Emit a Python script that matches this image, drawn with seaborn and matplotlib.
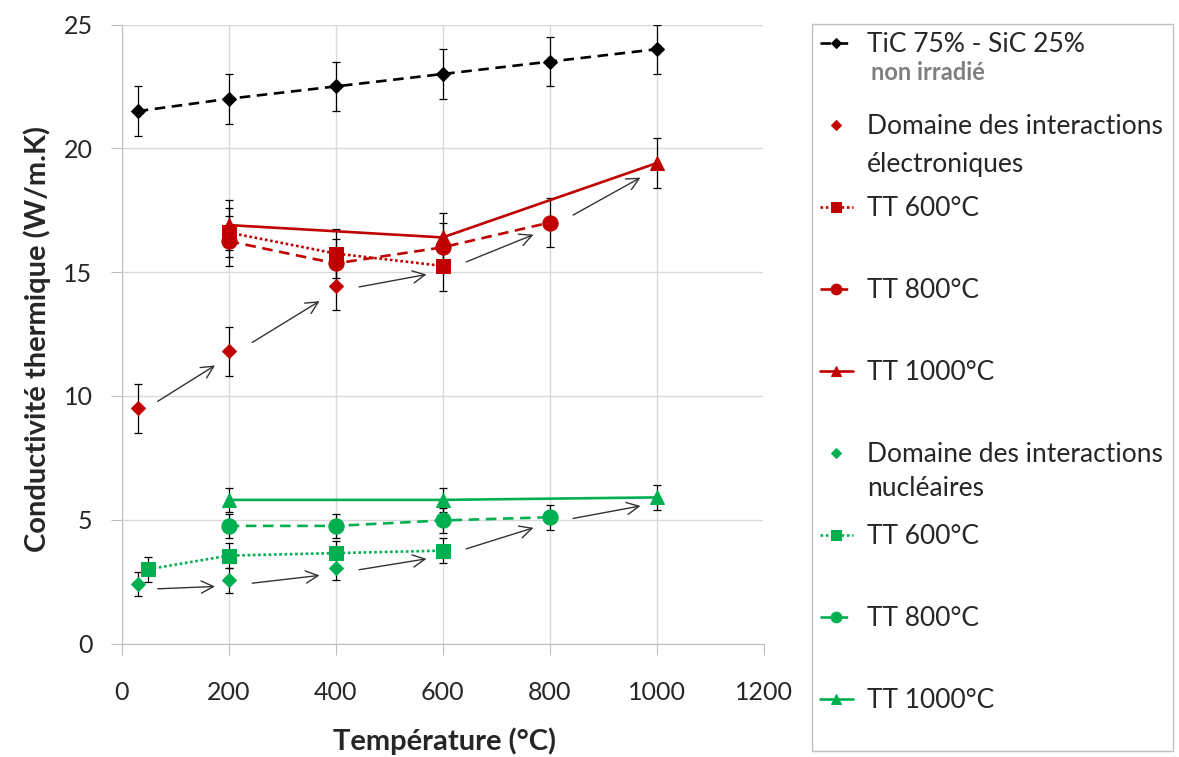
import numpy as np
import matplotlib.pyplot as plt
import seaborn as sns
from matplotlib.patches import Rectangle
from matplotlib.transforms import ScaledTranslation

# --- valeurs ---
T_REF = [30, 200, 400, 600, 800, 1000]
K_REF = [21.5, 22.0, 22.5, 23.0, 23.5, 24.0]
ERR_REF = 1.0

T_ELEC = [30, 200, 400]
K_ELEC = [9.5, 11.8, 14.45]
T_E600 = [200, 400, 600]
K_E600 = [16.6, 15.75, 15.25]
T_E800 = [200, 400, 600, 800]
K_E800 = [16.25, 15.35, 16.0, 17.0]
T_E1000 = [200, 600, 1000]
K_E1000 = [16.9, 16.4, 19.4]
ERR_ELEC = 1.0

T_NUC = [30, 200, 400]
K_NUC = [2.4, 2.55, 3.05]
T_N600 = [50, 200, 400, 600]
K_N600 = [3.0, 3.55, 3.65, 3.75]
T_N800 = [200, 400, 600, 800]
K_N800 = [4.75, 4.75, 4.97, 5.1]
T_N1000 = [200, 600, 1000]
K_N1000 = [5.8, 5.8, 5.9]
ERR_NUC = 0.5

RED = "#C00000"
GREEN = "#00B050"
TXT = "#262626"

sns.set_style("white")
plt.rcParams["font.family"] = ["Lato", "DejaVu Sans"]

fig = plt.figure(figsize=(11.79, 7.57), dpi=100)
ax = fig.add_axes([121.7 / 1179, 1 - 643.5 / 757, 641.8 / 1179, 619 / 757])


def serie(x, y, err, color, marker, ms, ls, label):
    ax.errorbar(x, y, yerr=err, fmt="none", ecolor="black", elinewidth=0.9,
                capsize=3, capthick=0.9, zorder=2)
    sns.lineplot(x=x, y=y, ax=ax, color=color, marker=marker, markersize=ms,
                 markeredgecolor=color, linestyle=ls, linewidth=1.9,
                 label=label, errorbar=None, zorder=3)


dash = (0, (4, 2.5))
dot = (0, (1, 1))
serie(T_REF, K_REF, ERR_REF, "black", "D", 7.5, dash, "TiC 75% - SiC 25%")
serie(T_ELEC, K_ELEC, ERR_ELEC, RED, "D", 7, "none", "Domaine des interactions")
serie(T_E600, K_E600, ERR_ELEC, RED, "s", 10, dot, "TT 600°C")
serie(T_E800, K_E800, ERR_ELEC, RED, "o", 11, dash, "TT 800°C")
serie(T_E1000, K_E1000, ERR_ELEC, RED, "^", 10, "-", "TT 1000°C")
serie(T_NUC, K_NUC, ERR_NUC, GREEN, "D", 7, "none", "Domaine des interactions")
serie(T_N600, K_N600, ERR_NUC, GREEN, "s", 10, dot, "TT 600°C")
serie(T_N800, K_N800, ERR_NUC, GREEN, "o", 11, dash, "TT 800°C")
serie(T_N1000, K_N1000, ERR_NUC, GREEN, "^", 10, "-", "TT 1000°C")

handles, labels = ax.get_legend_handles_labels()
ax.get_legend().remove()

# fleches d'evolution (chaine des points successifs)
chain_e = list(zip(T_ELEC, K_ELEC)) + [(T_E600[-1], K_E600[-1]),
                                        (T_E800[-1], K_E800[-1]),
                                        (T_E1000[-1], K_E1000[-1])]
chain_n = list(zip(T_NUC, K_NUC)) + [(T_N600[-1], K_N600[-1]),
                                      (T_N800[-1], K_N800[-1]),
                                      (T_N1000[-1], K_N1000[-1])]
shift = ax.transData + ScaledTranslation(0, -4 / 72, fig.dpi_scale_trans)
for chain in (chain_e, chain_n):
    for (x0, y0), (x1, y1) in zip(chain[:-1], chain[1:]):
        a = (x0 + 0.22 * (x1 - x0), y0 + 0.22 * (y1 - y0))
        b = (x0 + 0.85 * (x1 - x0), y0 + 0.85 * (y1 - y0))
        ax.annotate("", xy=b, xytext=a, xycoords=shift, textcoords=shift,
                    arrowprops=dict(arrowstyle="->", color="#333333", lw=1.0,
                                    mutation_scale=22, shrinkA=0, shrinkB=0),
                    zorder=4)

ax.set_xlim(0, 1200)
ax.set_ylim(0, 25)
ax.set_xticks(range(0, 1201, 200))
ax.set_yticks(range(0, 26, 5))
ax.grid(True, color="#d9d9d9", linewidth=1)
for s in ("top", "right"):
    ax.spines[s].set_visible(False)
for s in ("left", "bottom"):
    ax.spines[s].set_color("#bfbfbf")
ax.tick_params(axis="both", direction="out", length=8, color="#bfbfbf",
               labelsize=18, labelcolor=TXT, left=True, bottom=True)
ax.tick_params(axis="x", pad=19)
ax.tick_params(axis="y", pad=13)

ax.set_xlabel("Température (°C)", fontsize=21, fontweight="bold", color=TXT)
ax.set_ylabel("Conductivité thermique (W/m.K)", fontsize=21,
              fontweight="bold", color=TXT)
ax.xaxis.label.set_va("center")
ax.yaxis.label.set_va("center")
ax.xaxis.set_label_coords(0.503, -0.158)
ax.yaxis.set_label_coords(-0.132, 0.492)

# legende
leg = fig.legend(handles, labels, loc="upper left",
                 bbox_to_anchor=(812 / 1179, 1 - 24 / 757), frameon=False,
                 fontsize=19, labelcolor=TXT, handlelength=1.25,
                 handletextpad=0.53, labelspacing=2.16, borderpad=0.3,
                 markerscale=0.7, borderaxespad=0)
fig.patches.append(Rectangle((812 / 1179, 1 - 751 / 757), 361 / 1179,
                             727 / 757, transform=fig.transFigure,
                             fill=False, edgecolor="#bfbfbf", lw=1))

fig.canvas.draw()
inv = fig.transFigure.inverted()
texts = leg.get_texts()
extra = {0: ("non irradié", dict(color="#7f7f7f", fontweight="bold",
                                  fontsize=17), 4, 28),
         1: ("électroniques", dict(color=TXT, fontsize=19), 0, 38),
         5: ("nucléaires", dict(color=TXT, fontsize=19), 0, 34)}
for i, (txt, kw, dx, dy) in extra.items():
    bb = texts[i].get_window_extent()
    x, y = inv.transform((bb.x0 + dx, 0.5 * (bb.y0 + bb.y1) - dy))
    fig.text(x, y, txt, ha="left", va="center", **kw)

fig.savefig("out.png", dpi=100)
